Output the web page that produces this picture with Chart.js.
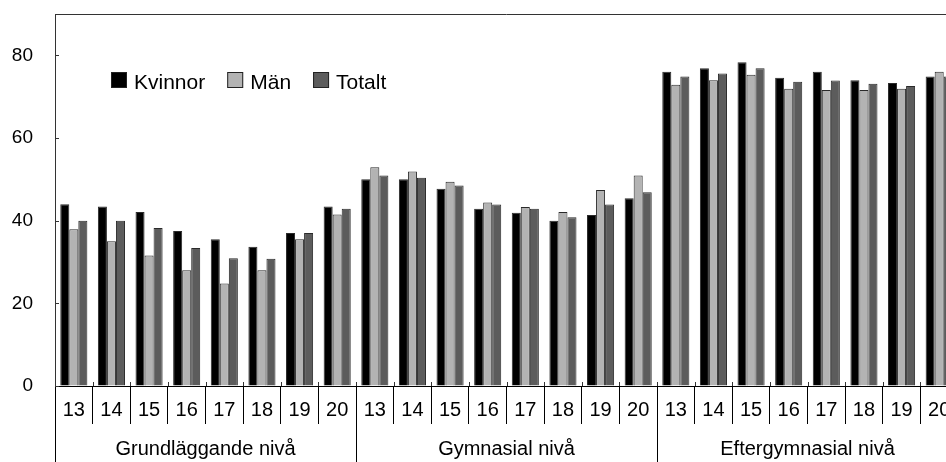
<!DOCTYPE html>
<html lang="sv">
<head>
<meta charset="utf-8">
<title>Kvinnor, Män, Totalt</title>
<script src="https://cdn.jsdelivr.net/npm/chart.js@4/dist/chart.umd.min.js"></script>
<style>
  html, body { margin: 0; padding: 0; background: #fff; overflow: hidden; }
  #wrap { position: relative; width: 962px; height: 462px; }
</style>
</head>
<body>
<div id="wrap"><canvas id="chart"></canvas></div>
<script>
// ================= DATA =================
const years = ["13", "14", "15", "16", "17", "18", "19", "20"];
const groups = ["Grundläggande nivå", "Gymnasial nivå", "Eftergymnasial nivå"];

const kvinnor = [
  44, 43.4, 42.1, 37.5, 35.5, 33.7, 37, 43.4,
  50, 50, 47.7, 42.9, 41.9, 40, 41.4, 45.4,
  76, 76.9, 78.3, 74.6, 76, 74, 73.3, 74.9
];
const man = [
  37.9, 35, 31.6, 28, 24.8, 28, 35.5, 41.5,
  52.9, 51.9, 49.4, 44.4, 43.3, 42.1, 47.4, 50.9,
  72.9, 74, 75.3, 71.9, 71.6, 71.6, 71.9, 76
];
const totalt = [
  40, 40, 38.2, 33.4, 30.9, 30.8, 37, 42.9,
  50.9, 50.4, 48.5, 43.9, 42.9, 40.8, 43.9, 46.9,
  74.9, 75.6, 76.9, 73.6, 73.9, 73.1, 72.6, 74.9
];

const yTicks = [0, 20, 40, 60, 80];

document.addEventListener("DOMContentLoaded", () => {

  const FONT = "'Liberation Sans', Arial, sans-serif";
  const labels = groups.flatMap(() => years);

  // ================= CUSTOM DRAWING =================
  // legend inside the plot, top border and the small inward ticks
  const extras = {
    id: "extras",
    afterDraw(chart) {
      const ctx = chart.ctx;
      const area = chart.chartArea;
      const x = chart.scales.x;
      const y = chart.scales.y;

      ctx.save();
      ctx.strokeStyle = "#333";
      ctx.lineWidth = 1;

      // top frame line
      ctx.beginPath();
      ctx.moveTo(area.left, Math.round(area.top) + 0.5);
      ctx.lineTo(area.right, Math.round(area.top) + 0.5);
      ctx.stroke();

      // y ticks pointing into the plot
      yTicks.forEach(v => {
        const py = Math.round(y.getPixelForValue(v)) + 0.5;
        ctx.beginPath();
        ctx.moveTo(area.left, py);
        ctx.lineTo(area.left + 4, py);
        ctx.stroke();
      });

      // x category boundaries, short marks above the axis
      const half = (x.getPixelForValue(1) - x.getPixelForValue(0)) / 2;
      for (let i = 0; i <= labels.length; i++) {
        const px = Math.round(x.getPixelForValue(i) - half) + 0.5;
        ctx.beginPath();
        ctx.moveTo(px, area.bottom);
        ctx.lineTo(px, area.bottom - 4);
        ctx.stroke();
      }

      // legend
      ctx.font = "21px " + FONT;
      ctx.textBaseline = "middle";
      ctx.textAlign = "left";
      let lx = area.left + 56;
      const ly = area.top + 58;
      chart.data.datasets.forEach(ds => {
        ctx.fillStyle = ds.backgroundColor;
        ctx.fillRect(lx, ly, 16, 16);
        ctx.strokeStyle = "#222";
        ctx.strokeRect(lx + 0.5, ly + 0.5, 15, 15);
        ctx.fillStyle = "#000";
        ctx.fillText(ds.label, lx + 23, ly + 11);
        lx += 23 + ctx.measureText(ds.label).width + 22;
      });

      ctx.restore();
    }
  };

  // ================= CHART =================
  new Chart(document.getElementById("chart"), {
    type: "bar",
    data: {
      labels: labels,
      datasets: [
        { label: "Kvinnor", data: kvinnor, backgroundColor: "#000000" },
        { label: "Män", data: man, backgroundColor: "#b3b3b3" },
        { label: "Totalt", data: totalt, backgroundColor: "#5c5c5c" }
      ]
    },
    options: {
      responsive: true,
      maintainAspectRatio: false,
      animation: false,
      layout: { padding: { top: 14, right: 4, left: 0, bottom: 0 } },
      datasets: {
        bar: {
          categoryPercentage: 0.72,
          barPercentage: 1,
          borderColor: "#2a2a2a",
          borderWidth: 1,
          borderSkipped: "bottom"
        }
      },
      plugins: {
        legend: { display: false },
        tooltip: { enabled: false }
      },
      scales: {
        x: {
          type: "category",
          position: "bottom",
          weight: 0,
          offset: true,
          grid: {
            offset: true,
            drawOnChartArea: false,
            drawTicks: true,
            tickLength: 38,
            color: "#000",
            lineWidth: 1
          },
          border: { display: true, color: "#000", width: 1 },
          ticks: {
            font: { family: FONT, size: 20 },
            color: "#000",
            padding: -26,
            maxRotation: 0,
            autoSkip: false
          },
          afterFit: s => { s.height = 38; s.paddingLeft = 0; s.paddingRight = 0; }
        },
        x2: {
          type: "category",
          position: "bottom",
          weight: 1,
          labels: groups,
          offset: true,
          grid: {
            offset: true,
            drawOnChartArea: false,
            drawTicks: true,
            tickLength: 38,
            color: "#000",
            lineWidth: 1
          },
          border: { display: false },
          ticks: {
            font: { family: FONT, size: 20 },
            color: "#000",
            padding: -25,
            maxRotation: 0,
            autoSkip: false
          },
          afterFit: s => { s.height = 38; s.paddingLeft = 0; s.paddingRight = 0; }
        },
        y: {
          min: 0,
          max: 90,
          afterBuildTicks: s => { s.ticks = yTicks.map(v => ({ value: v })); },
          grid: { drawOnChartArea: false, drawTicks: false },
          border: { display: true, color: "#333", width: 1 },
          ticks: {
            font: { family: FONT, size: 19 },
            color: "#000",
            padding: 22
          },
          afterFit: s => { s.width = 55; s.paddingTop = 0; s.paddingBottom = 0; }
        }
      }
    },
    plugins: [extras]
  });
});
</script>
</body>
</html>
